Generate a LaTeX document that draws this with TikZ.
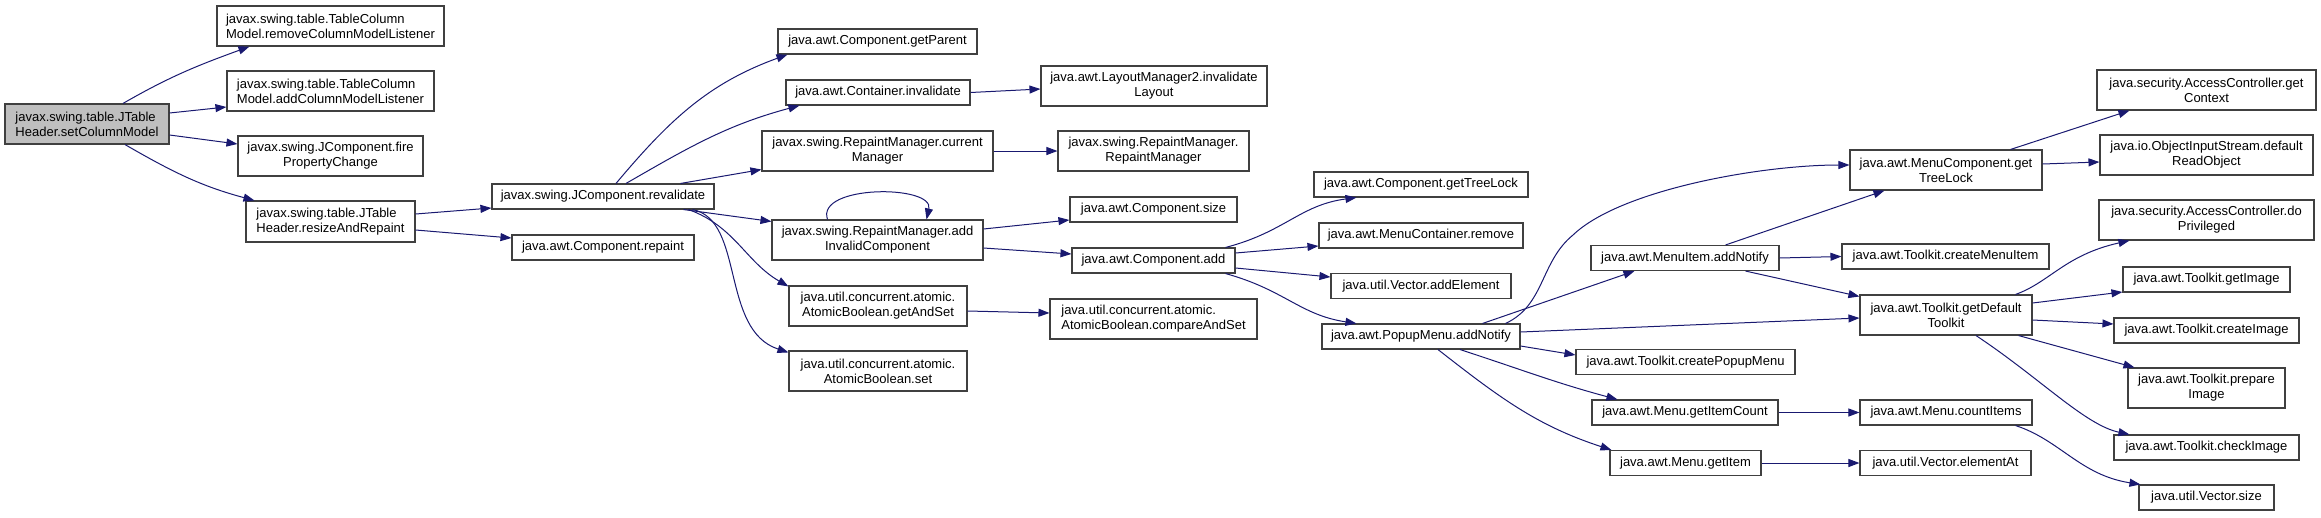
\documentclass[tikz,border=0pt]{standalone}
\usepackage{fontspec}
\setmainfont{Liberation Sans}
\usetikzlibrary{arrows.meta}
\definecolor{edgec}{HTML}{191970}
\definecolor{boxc}{HTML}{404040}
\definecolor{rootc}{HTML}{BFBFBF}
\tikzset{
  box/.style={draw=boxc, line width=1.1pt, fill=white, inner sep=0pt, align=center,
    font=\fontsize{13}{15}\selectfont, text=black},
  edge/.style={draw=edgec, line width=1pt, -{Triangle[length=11pt,width=8pt]}},
}
\newcommand\bx[7][center]{\node[box, align=#1, minimum width=#5pt, minimum height=#6pt] (#2) at (#3,#4) {#7};}
\begin{document}
\begin{tikzpicture}[x=1pt,y=-1pt]
\useasboundingbox (0,0) rectangle (2321,517);
% column 0
\bx[left]{scm}{87}{124}{164}{40}{javax.swing.table.JTable\\Header.setColumnModel}
\path (scm) node[box, fill=rootc, align=left, minimum width=164pt, minimum height=40pt] {javax.swing.table.JTable\\Header.setColumnModel};
% column 1
\bx[left]{rcml}{330.5}{26}{227}{40}{javax.swing.table.TableColumn\\Model.removeColumnModelListener}
\bx[left]{acml}{330.5}{91}{207}{40}{javax.swing.table.TableColumn\\Model.addColumnModelListener}
\bx{fpc}{330.5}{156}{185}{40}{javax.swing.JComponent.fire\\PropertyChange}
\bx[left]{rar}{330.5}{221.5}{169}{41}{javax.swing.table.JTable\\Header.resizeAndRepaint}
% column 2
\bx{reval}{603}{196.5}{222}{25}{javax.swing.JComponent.revalidate}
\bx{repaint}{603}{247.5}{182}{25}{java.awt.Component.repaint}
% column 3
\bx{getParent}{877.5}{41.5}{199}{25}{java.awt.Component.getParent}
\bx{cinv}{878}{92.5}{184}{25}{java.awt.Container.invalidate}
\bx{curMgr}{877.5}{151}{231}{40}{javax.swing.RepaintManager.current\\Manager}
\bx{addInv}{877.5}{240}{211}{40}{javax.swing.RepaintManager.add\\InvalidComponent}
\bx{getAndSet}{878}{306}{178}{40}{java.util.concurrent.atomic.\\AtomicBoolean.getAndSet}
\bx{abset}{878}{371}{178}{40}{java.util.concurrent.atomic.\\AtomicBoolean.set}
% column 4
\bx{layout}{1154}{86}{226}{40}{java.awt.LayoutManager2.invalidate\\Layout}
\bx{rmrm}{1153.5}{151}{191}{40}{javax.swing.RepaintManager.\\RepaintManager}
\bx{csize}{1153.5}{209.5}{167}{25}{java.awt.Component.size}
\bx{cadd}{1153.5}{260.5}{163}{25}{java.awt.Component.add}
\bx[left]{cas}{1153.5}{319}{207}{40}{java.util.concurrent.atomic.\\AtomicBoolean.compareAndSet}
% column 5
\bx{gtl}{1421}{184.5}{214}{25}{java.awt.Component.getTreeLock}
\bx{mcr}{1421}{235.5}{204}{25}{java.awt.MenuContainer.remove}
\bx{vae}{1421}{286}{180}{25}{java.util.Vector.addElement}
\bx{pman}{1421}{336.5}{198}{25}{java.awt.PopupMenu.addNotify}
% column 6
\bx{mian}{1685}{258}{188}{25}{java.awt.MenuItem.addNotify}
\bx{cpm}{1685.5}{362}{219}{25}{java.awt.Toolkit.createPopupMenu}
\bx{gic}{1685}{412.5}{186}{25}{java.awt.Menu.getItemCount}
\bx{gi}{1685.5}{463}{151}{25}{java.awt.Menu.getItem}
% column 7
\bx{mctl}{1946}{170}{192}{40}{java.awt.MenuComponent.get\\TreeLock}
\bx{cmi}{1945.5}{256.5}{207}{25}{java.awt.Toolkit.createMenuItem}
\bx{gdt}{1946}{315}{172}{40}{java.awt.Toolkit.getDefault\\Toolkit}
\bx{ci}{1946}{412.5}{172}{25}{java.awt.Menu.countItems}
\bx{ea}{1945.5}{463}{171}{25}{java.util.Vector.elementAt}
% column 8
\bx{gctx}{2206.5}{90}{219}{40}{java.security.AccessController.get\\Context}
\bx{dro}{2206.5}{155}{213}{40}{java.io.ObjectInputStream.default\\ReadObject}
\bx{dp}{2206.5}{220}{215}{40}{java.security.AccessController.do\\Privileged}
\bx{gim}{2206.5}{279.5}{167}{25}{java.awt.Toolkit.getImage}
\bx{cim}{2206.5}{330.5}{185}{25}{java.awt.Toolkit.createImage}
\bx{pim}{2206.5}{388}{157}{40}{java.awt.Toolkit.prepare\\Image}
\bx{chk}{2206.5}{447.5}{185}{25}{java.awt.Toolkit.checkImage}
\bx{vs}{2206.5}{497.5}{135}{25}{java.util.Vector.size}
% edges
\draw[edge] ([xshift=36pt]scm.north) to[out=30,in=200] ([xshift=33pt]rcml.south west);
\draw[edge] ([yshift=11pt]scm.east) -- ([yshift=-16pt]acml.west);
\draw[edge] ([yshift=-11pt]scm.east) -- ([yshift=12pt]fpc.west);
\draw[edge] ([xshift=38pt]scm.south) to[out=-30,in=165] ([xshift=9pt]rar.north west);
\draw[edge] ([yshift=7.5pt]rar.east) -- ([yshift=-11.5pt]reval.west);
\draw[edge] ([yshift=-8.5pt]rar.east) -- ([yshift=9.5pt]repaint.west);
\draw[edge] ([xshift=13pt]reval.north) to[out=50,in=200] ([xshift=10pt]getParent.south west);
\draw[edge] ([xshift=23pt]reval.north) to[out=30,in=195] ([xshift=14pt]cinv.south west);
\draw[edge] ([xshift=-34pt]reval.north east) -- ([yshift=2pt]curMgr.south west);
\draw[edge] ([xshift=-31pt]reval.south east) -- ([yshift=-2pt]addInv.north west);
\draw[edge] ([xshift=-26pt]reval.south east) to[out=-20,in=150] ([yshift=-1pt]getAndSet.north west);
\draw[edge] ([xshift=-22pt]reval.south east) .. controls (745,220) and (720,330) .. ([yshift=-2pt]abset.north west);
\draw[edge] (cinv.east) -- ([yshift=-3pt]layout.west);
\draw[edge] (curMgr.east) -- (rmrm.west);
\draw[edge] ([xshift=-50pt]addInv.north) .. controls +(-12pt,35pt) and +(8pt,35pt) .. ([xshift=49pt]addInv.north);
\draw[edge] ([yshift=11pt]addInv.east) -- ([yshift=-10.5pt]csize.west);
\draw[edge] ([yshift=-8pt]addInv.east) -- ([yshift=6.5pt]cadd.west);
\draw[edge] ([yshift=-5pt]getAndSet.east) -- ([yshift=6pt]cas.west);
\draw[edge] ([xshift=-10pt]cadd.north east) .. controls (1285,232) and (1300,205) .. ([xshift=43pt]gtl.south west);
\draw[edge] ([yshift=7.5pt]cadd.east) -- ([yshift=-10.5pt]mcr.west);
\draw[edge] ([yshift=-7.5pt]cadd.east) -- ([yshift=9pt]vae.west);
\draw[edge] ([xshift=-10pt]cadd.south east) .. controls (1285,290) and (1300,315) .. ([xshift=35pt]pman.north west);
\draw[edge] ([xshift=-15pt]pman.north east) .. controls (1545,305) and (1540,262) .. (1573,235) .. controls (1620,190) and (1760,165) .. ([yshift=5pt]mctl.west);
\draw[edge] ([xshift=-38pt]pman.north east) -- ([xshift=44pt]mian.south west);
\draw[edge] ([yshift=4.5pt]pman.east) -- ([yshift=-3pt]gdt.west);
\draw[edge] ([yshift=-9.5pt]pman.east) -- ([yshift=7pt]cpm.west);
\draw[edge] ([xshift=39pt]pman.south) to[out=-18,in=165] ([xshift=26pt]gic.north west);
\draw[edge] ([xshift=17pt]pman.south) to[out=-38,in=162] ([xshift=2pt]gi.north west);
\draw[edge] ([xshift=-54pt]mian.north east) -- ([xshift=35pt]mctl.south west);
\draw[edge] (mian.east) -- (cmi.west);
\draw[edge] ([xshift=-34pt]mian.south east) -- ([yshift=-2pt]gdt.north west);
\draw[edge] ([xshift=-32pt]mctl.north east) -- ([xshift=33pt]gctx.south west);
\draw[edge] ([yshift=6pt]mctl.east) -- ([yshift=-7pt]dro.west);
\draw[edge] ([xshift=-17pt]gdt.north east) .. controls (2050,282) and (2065,255) .. ([xshift=31pt]dp.south west);
\draw[edge] ([yshift=12pt]gdt.east) -- ([yshift=-12.5pt]gim.west);
\draw[edge] ([yshift=-5pt]gdt.east) -- ([yshift=6.5pt]cim.west);
\draw[edge] ([xshift=-14pt]gdt.south east) -- ([xshift=7pt]pim.north west);
\draw[edge] ([xshift=30pt]gdt.south) .. controls (2040,378) and (2085,425) .. ([xshift=16pt]chk.north west);
\draw[edge] (gic.east) -- (ci.west);
\draw[edge] (gi.east) -- (ea.west);
\draw[edge] ([xshift=-17pt]ci.south east) .. controls (2060,440) and (2080,475) .. ([xshift=2pt]vs.north west);
\end{tikzpicture}
\end{document}
